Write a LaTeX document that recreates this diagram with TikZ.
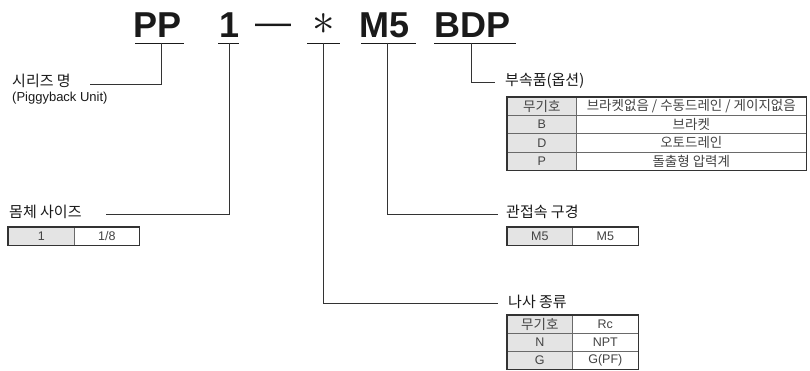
\documentclass[tikz,border=0pt]{standalone}
\usepackage{fontspec}
\setmainfont{Liberation Sans}
\newfontfamily\kr{Noto Sans CJK KR}
\definecolor{ink}{HTML}{1A1A1A}
\definecolor{connc}{HTML}{333333}
\definecolor{cellline}{HTML}{6A6A6A}
\definecolor{outerc}{HTML}{333333}
\definecolor{keyfill}{HTML}{E4E4E4}
\definecolor{tabtext}{HTML}{444444}
\begin{document}
\begin{tikzpicture}[x=1pt,y=-1pt,
  title/.style={inner sep=0pt, text=ink, font=\fontsize{36}{36}\selectfont\bfseries},
  dashtxt/.style={inner sep=0pt, text=ink, font=\fontsize{36}{36}\selectfont},
  lbl/.style={inner sep=0pt, anchor=base west, text=ink, font=\fontsize{15}{15}\selectfont\kr},
  sublbl/.style={inner sep=0pt, anchor=base west, text=ink, font=\fontsize{13}{13}\selectfont},
  uline/.style={draw=ink, line width=0.9pt},
  conn/.style={draw=connc, line width=0.8pt},
  cellbase/.style={draw=cellline, line width=0.6pt, inner sep=0pt, anchor=north west, text=tabtext},
  cellk/.style={cellbase, fill=keyfill},
  cellv/.style={cellbase, fill=white},
  krt/.style={font=\fontsize{13.5}{13.5}\selectfont\kr},
  lat/.style={font=\fontsize{12.5}{12.5}\selectfont},
  outer/.style={draw=outerc, line width=1.1pt}
]
\useasboundingbox (0,0) rectangle (810,371);
\fill[white] (0,0) rectangle (810,371);

% ---- title ----
\node[title, anchor=base west] (pp) at (133,38) {PP};
\node[title, anchor=base] (one) at (229.5,38) {1};
\node[dashtxt, anchor=base west] (dash) at (255,35) {—};
\node[inner sep=0pt, text=ink] (ast) at (323.5,24) {\scalebox{4.5}{$\ast$}};
\node[title, anchor=base west] (m5) at (359,38) {M5};
\node[title, anchor=base west] (bdp) at (434,38) {BDP};

% underlines
\coordinate (ppA) at (135,43);  \coordinate (ppB) at (184,43);
\coordinate (oneA) at (218,43); \coordinate (oneB) at (239,43);
\coordinate (astA) at (307,43); \coordinate (astB) at (340,43);
\coordinate (m5A) at (361,43);  \coordinate (m5B) at (416,43);
\coordinate (bdpA) at (434,43); \coordinate (bdpB) at (516,43);
\draw[uline] (ppA) -- (ppB);
\draw[uline] (oneA) -- (oneB);
\draw[uline] (astA) -- (astB);
\draw[uline] (m5A) -- (m5B);
\draw[uline] (bdpA) -- (bdpB);

% taps
\coordinate (ppT) at (161,43);
\coordinate (oneT) at (229,43);
\coordinate (astT) at (323,43);
\coordinate (m5T) at (387,43);
\coordinate (bdpT) at (471,43);

% ---- labels ----
\node[lbl] (ser) at (12,87) {시리즈 명};
\node[sublbl] (sersub) at (12,102) {(Piggyback Unit)};
\coordinate (serE) at (90,84);
\draw[conn] (ppT) |- (serE);

\node[lbl] (opt) at (505,86) {부속품(옵션)};
\coordinate (optE) at (495,82);
\draw[conn] (bdpT) |- (optE);

\node[lbl] (body) at (9,218) {몸체 사이즈};
\coordinate (bodyE) at (106,214);
\draw[conn] (oneT) |- (bodyE);

\node[lbl] (port) at (506,218) {관접속 구경};
\coordinate (portE) at (498,214);
\draw[conn] (m5T) |- (portE);

\node[lbl] (thr) at (508,307) {나사 종류};
\coordinate (thrE) at (498,303);
\draw[conn] (astT) |- (thrE);

% ---- option table ----
\begin{scope}[every node/.append style={minimum height=18.25pt}]
\node[cellk, krt, minimum width=69pt] (o1k) at (507,97) {무기호};
\node[cellv, krt, minimum width=230pt] (o1v) at (576,97) {브라켓없음 / 수동드레인 / 게이지없음};
\node[cellk, lat, minimum width=69pt] (o2k) at (507,115.25) {B};
\node[cellv, krt, minimum width=230pt] (o2v) at (576,115.25) {브라켓};
\node[cellk, lat, minimum width=69pt] (o3k) at (507,133.5) {D};
\node[cellv, krt, minimum width=230pt] (o3v) at (576,133.5) {오토드레인};
\node[cellk, lat, minimum width=69pt] (o4k) at (507,151.75) {P};
\node[cellv, krt, minimum width=230pt] (o4v) at (576,151.75) {돌출형 압력계};
\end{scope}
\draw[outer] (o1k.north west) rectangle (o4v.south east);

% ---- body size table ----
\begin{scope}[every node/.append style={minimum height=18pt}]
\node[cellk, lat, minimum width=66pt] (b1k) at (8,227) {1};
\node[cellv, lat, minimum width=65pt] (b1v) at (74,227) {1/8};
\end{scope}
\draw[outer] (b1k.north west) rectangle (b1v.south east);

% ---- port table ----
\begin{scope}[every node/.append style={minimum height=18pt}]
\node[cellk, lat, minimum width=65pt] (p1k) at (507,227) {M5};
\node[cellv, lat, minimum width=66pt] (p1v) at (572,227) {M5};
\end{scope}
\draw[outer] (p1k.north west) rectangle (p1v.south east);

% ---- thread table ----
\begin{scope}[every node/.append style={minimum height=18pt}]
\node[cellk, krt, minimum width=65pt] (t1k) at (507,315) {무기호};
\node[cellv, lat, minimum width=66pt] (t1v) at (572,315) {Rc};
\node[cellk, lat, minimum width=65pt] (t2k) at (507,333) {N};
\node[cellv, lat, minimum width=66pt] (t2v) at (572,333) {NPT};
\node[cellk, lat, minimum width=65pt] (t3k) at (507,351) {G};
\node[cellv, lat, minimum width=66pt] (t3v) at (572,351) {G(PF)};
\end{scope}
\draw[outer] (t1k.north west) rectangle (t3v.south east);
\end{tikzpicture}
\end{document}
